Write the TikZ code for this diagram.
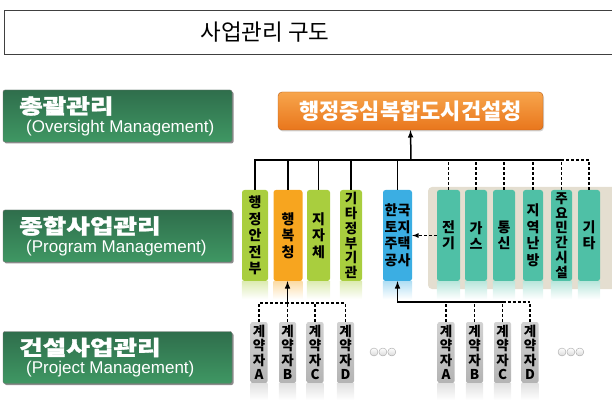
\documentclass[tikz,border=0pt]{standalone}
\usepackage{fontspec}
\setmainfont{Noto Sans CJK KR}
\newfontfamily\krwide[FakeStretch=1.25, BoldFeatures={FakeBold=1.5}]{Noto Sans CJK KR}
\newfontfamily\latfont{Liberation Sans}
\usetikzlibrary{positioning, shapes, arrows, shadows}

\definecolor{lvtop}{HTML}{2F6E4C}
\definecolor{lvbot}{HTML}{3F9763}
\definecolor{orgtop}{HTML}{F7A54C}
\definecolor{orgbot}{HTML}{E9761C}
\definecolor{ygreen}{HTML}{A9CE3E}
\definecolor{hborange}{HTML}{F7A51F}
\definecolor{khblue}{HTML}{3BAEE3}
\definecolor{teal}{HTML}{4FC0A6}
\definecolor{panel}{HTML}{E4DED0}
\definecolor{ctop}{HTML}{D2D2D2}
\definecolor{cbot}{HTML}{B4B4B4}

\tikzset{
  lvbox/.style={rectangle, rounded corners=2pt, draw=black!55, top color=lvtop, bottom color=lvbot,
    minimum width=229pt, minimum height=52pt, inner sep=0pt,
    drop shadow={shadow xshift=1.5pt, shadow yshift=-1.5pt, opacity=.9}},
  lvko/.style={anchor=west, text=white, inner sep=0pt, font=\krwide\bfseries\fontsize{20.5}{20.5}\selectfont},
  lven/.style={anchor=west, text=white, inner sep=0pt, font=\latfont\fontsize{17}{17}\selectfont},
  orgbox/.style={rectangle, rounded corners=4pt, top color=orgtop, bottom color=orgbot, draw=orgbot!80!black,
    minimum width=265pt, minimum height=38pt, text=white, font=\bfseries\fontsize{22}{22}\selectfont,
    drop shadow={shadow xshift=1pt, shadow yshift=-1.5pt, opacity=.35}},
  vbox/.style={rectangle, rounded corners=2.5pt, fill=#1, minimum height=91pt, inner sep=0pt,
    align=center, font=\bfseries\fontsize{14}{16.5}\selectfont},
  cbox/.style={rectangle, rounded corners=2pt, top color=ctop, bottom color=cbot, minimum width=17pt,
    minimum height=61pt, inner sep=0pt, align=center, font=\bfseries\fontsize{13.5}{14.5}\selectfont},
  link/.style={line width=1.5pt},
  dlink/.style={line width=1.2pt, dashed, dash pattern=on 3pt off 2pt},
  dot/.style={circle, draw=black!35, top color=white, bottom color=black!15, minimum size=8pt, inner sep=0pt}
}

\begin{document}
\begin{tikzpicture}[x=1pt, y=-1pt]
\useasboundingbox (0,0) rectangle (612,411);

% title
\draw[black!75, line width=0.8pt] (4,10) rectangle (613,54);
\node[font=\fontsize{22.5}{22.5}\selectfont] (title) at (265,32) {사업관리 구도};

% levels
\node[lvbox] (lv1) at (117.5,116) {};
\node[lvko] (lv1ko) at (19,106) {총괄관리};
\node[lven] (lv1en) at (26,128) {(Oversight Management)};
\node[lvbox] (lv2) at (117.5,236) {};
\node[lvko] (lv2ko) at (19,226) {종합사업관리};
\node[lven] (lv2en) at (26,248) {(Program Management)};
\node[lvbox] (lv3) at (117.5,357.5) {};
\node[lvko] (lv3ko) at (19,347.5) {건설사업관리};
\node[lven] (lv3en) at (26,369.5) {(Project Management)};

% top
\node[orgbox] (top) at (410.5,111) {행정중심복합도시건설청};

% program level
\fill[panel, rounded corners=4pt] (428,187) rectangle (618,289);
\node[vbox=ygreen, minimum width=26pt] (mois) at (255,235.5) {행\\정\\안\\전\\부};
\node[vbox=hborange, minimum width=29pt] (hb) at (288,235.5) {행\\복\\청};
\node[vbox=ygreen, minimum width=23pt] (lg) at (318.5,235.5) {지\\자\\체};
\node[vbox=ygreen, minimum width=22pt, font=\bfseries\fontsize{13.5}{14.8}\selectfont] (gov) at (351,235.5) {기\\타\\정\\부\\기\\관};
\node[vbox=khblue, minimum width=29pt] (kh) at (397.5,235.5) {한국\\토지\\주택\\공사};
\node[vbox=teal, minimum width=23pt] (elec) at (448.5,235.5) {전\\기};
\node[vbox=teal, minimum width=22pt] (gas) at (476,235.5) {가\\스};
\node[vbox=teal, minimum width=22pt] (tel) at (504,235.5) {통\\신};
\node[vbox=teal, minimum width=20pt] (heat) at (533,235.5) {지\\역\\난\\방};
\node[vbox=teal, minimum width=21pt, font=\bfseries\fontsize{13.5}{14.8}\selectfont] (priv) at (561.5,235.5) {주\\요\\민\\간\\시\\설};
\node[vbox=teal, minimum width=22pt] (etc) at (589,235.5) {기\\타};

% reflections
\foreach \n/\c in {mois/ygreen, hb/hborange, lg/ygreen, gov/ygreen, kh/khblue,
    elec/teal, gas/teal, tel/teal, heat/teal, priv/teal, etc/teal}
  \shade[top color=\c!40, bottom color=white] (\n.south west) rectangle ([yshift=-18pt]\n.south east);

% project level
\node[cbox] (a1) at (259,352.5) {계\\약\\자\\A};
\node[cbox] (b1) at (287.5,352.5) {계\\약\\자\\B};
\node[cbox] (c1) at (315,352.5) {계\\약\\자\\C};
\node[cbox] (d1) at (345.5,352.5) {계\\약\\자\\D};
\node[cbox] (a2) at (446,352.5) {계\\약\\자\\A};
\node[cbox] (b2) at (474.5,352.5) {계\\약\\자\\B};
\node[cbox] (c2) at (502.5,352.5) {계\\약\\자\\C};
\node[cbox] (d2) at (530,352.5) {계\\약\\자\\D};
\foreach \n in {a1, b1, c1, d1, a2, b2, c2, d2}
  \shade[top color=black!12, bottom color=white] (\n.south west) rectangle ([yshift=-17pt]\n.south east);

\node[dot] (l1) at (374,352) {};
\node[dot, right=0.5pt of l1] (l2) {};
\node[dot, right=0.5pt of l2] (l3) {};
\node[dot] (r1) at (562,352) {};
\node[dot, right=0.5pt of r1] (r2) {};
\node[dot, right=0.5pt of r2] (r3) {};

% connectors
\coordinate (hub) at (411,160);
\coordinate (lhub) at (287.5,303);
\coordinate (rhub) at (397.5,302);
\draw[link, -latex] (hub) -- (top.south);
\foreach \n in {mois, hb, lg, gov, kh}
  \draw[link] (\n.north) |- (hub);
\foreach \n in {elec, gas, tel, heat, priv, etc}
  \draw[dlink] (\n.north) |- (hub);
\draw[dlink, -latex] (elec.west) -- (kh.east);

\foreach \n in {a1, b1, c1, d1}
  \draw[dlink] (\n.north) |- (lhub);
\draw[link, -latex] (lhub) -- (lhub |- hb.south);

\foreach \n in {a2, b2, c2, d2}
  \draw[dlink] (\n.north) -- (\n.north |- rhub);
\draw[dlink] (rhub -| c2) -- (rhub -| d2);
\draw[link, -latex] (rhub -| c2) -- (rhub) -- (kh.south);
\end{tikzpicture}
\end{document}
